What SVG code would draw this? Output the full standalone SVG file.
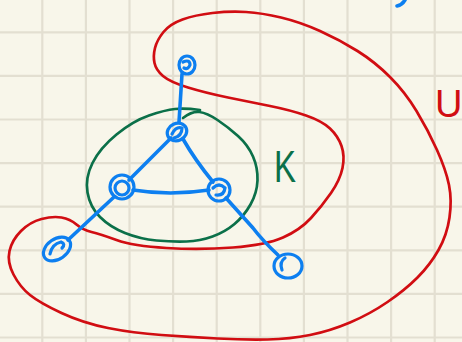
<svg xmlns="http://www.w3.org/2000/svg" width="462" height="342" viewBox="0 0 462 342">
<defs>
<style>
.grid line{stroke:#e3dfd1;stroke-width:2.2}
.red{fill:none;stroke:#d10d12;stroke-width:2.7;stroke-linecap:round;stroke-linejoin:round}
.green{fill:none;stroke:#0b7049;stroke-width:2.7;stroke-linecap:round;stroke-linejoin:round}
.edge{fill:none;stroke:#0d7ff0;stroke-width:3.6;stroke-linecap:round;stroke-linejoin:round}
.node *{fill:none;stroke:#0d7ff0;stroke-width:3.2;stroke-linecap:round}
.lbl{font-family:"Liberation Sans",Arial,sans-serif}
</style>
</defs>
<rect width="462" height="342" fill="#f8f6ea"/>
<g class="grid">
<line x1="42.3" y1="0" x2="42.3" y2="342"/>
<line x1="85.9" y1="0" x2="85.9" y2="342"/>
<line x1="129.5" y1="0" x2="129.5" y2="342"/>
<line x1="173.1" y1="0" x2="173.1" y2="342"/>
<line x1="216.7" y1="0" x2="216.7" y2="342"/>
<line x1="260.3" y1="0" x2="260.3" y2="342"/>
<line x1="303.9" y1="0" x2="303.9" y2="342"/>
<line x1="347.5" y1="0" x2="347.5" y2="342"/>
<line x1="391.1" y1="0" x2="391.1" y2="342"/>
<line x1="434.7" y1="0" x2="434.7" y2="342"/>
<line x1="0" y1="32.3" x2="462" y2="32.3"/>
<line x1="0" y1="75.9" x2="462" y2="75.9"/>
<line x1="0" y1="119.5" x2="462" y2="119.5"/>
<line x1="0" y1="163.1" x2="462" y2="163.1"/>
<line x1="0" y1="206.7" x2="462" y2="206.7"/>
<line x1="0" y1="250.3" x2="462" y2="250.3"/>
<line x1="0" y1="293.9" x2="462" y2="293.9"/>
<line x1="0" y1="337.5" x2="462" y2="337.5"/>
</g>
<g id="region-U">
<path class="red" d="M 91.5,232 Q 100,234 116.5,240 Q 133,246 166.5,248 Q 200,250 233,247.5 Q 266,245 283,237.5 Q 300,230 311,218 Q 322,206 331,193 Q 340,180 342.5,168 Q 345,156 341.5,146 Q 338,136 330,128.5 Q 322,121 306,115.5 Q 290,110 270,106 Q 250,102 228,97.5 Q 206,93 188,87.5 Q 170,82 163,76 Q 156,70 154.5,63 Q 153,56 155,48 Q 157,40 163.5,32 Q 170,24 182.5,19.5 Q 195,15 212.5,13 Q 230,11 246,12 Q 262,13 281,17.5 Q 300,22 320,31 Q 340,40 357.5,51 Q 375,62 390,77 Q 405,92 416.5,111 Q 428,130 437,150 Q 446,170 449,185 Q 452,200 449.5,217.5 Q 447,235 438.5,250 Q 430,265 417.5,277.5 Q 405,290 387.5,302 Q 370,314 350,322.5 Q 330,331 310,335 Q 290,339 267.5,339.5 Q 245,340 217.5,338.5 Q 190,337 161.5,335 Q 133,333 108,328 Q 83,323 61.5,313 Q 40,303 30,295 Q 20,287 13.5,274.5 Q 7,262 9.5,251 Q 12,240 21,231 Q 30,222 41.5,219 Q 53,216 61.5,217.5 Q 70,219 76.5,224.5 Q 83,230 91.5,232 Z"/>
<text class="lbl" x="435" y="117" font-size="38" fill="#d10d12">U</text>
</g>
<g id="region-K">
<path class="green" d="M 183,118 Q 192,111 199.5,112 Q 207,113 217.5,120 Q 228,127 238,136 Q 248,145 253,156.5 Q 258,168 257.5,180.5 Q 257,193 250.5,204.5 Q 244,216 234.5,224 Q 225,232 212.5,236.5 Q 200,241 186.5,241.5 Q 173,242 156.5,240.5 Q 140,239 125,233 Q 110,227 100,217 Q 90,207 87.5,192.5 Q 85,178 92.5,163 Q 100,148 116.5,134.5 Q 133,121 149,115.5 Q 165,110 175,109 Q 185,108 200,110"/>
<text class="lbl" x="274" y="182" font-size="44" fill="#0b7049" textLength="22" lengthAdjust="spacingAndGlyphs">K</text>
</g>
<g id="connectors">
<path class="edge" d="M 182,74 L 179,122"/>
<path class="edge" d="M 171,138 L 129,180"/>
<path class="edge" d="M 183,139 Q 195,160 213,182"/>
<path class="edge" d="M 133,190 Q 170,196 209,190"/>
<path class="edge" d="M 114,197 L 68,240"/>
<path class="edge" d="M 226,198 L 253,228 Q 262,240 278,255"/>
<path class="edge" d="M 405,0 Q 402,5 397,6"/>
</g>
<g id="n-top" class="node">
<ellipse cx="187" cy="65" rx="8" ry="9"/>
<path d="M 183,62 Q 190,59 190,65 Q 188,70 184,68"/>
</g>
<g id="n-center" class="node">
<ellipse cx="177" cy="132" rx="10" ry="8.5" transform="rotate(-25 177 132)"/>
<path d="M 172,134 Q 176,126 182,128 Q 182,136 174,138"/>
</g>
<g id="n-left" class="node">
<circle cx="122" cy="187" r="12"/>
<circle cx="122" cy="188" r="7"/>
</g>
<g id="n-right" class="node">
<circle cx="219" cy="190" r="11"/>
<path d="M 213,188 Q 219,182 225,188 Q 224,196 216,195"/>
</g>
<g id="n-bottom-left" class="node">
<ellipse cx="57" cy="249" rx="15" ry="10" transform="rotate(-35 57 249)"/>
<path d="M 50,254 Q 52,244 61,242 Q 66,244 62,248"/>
</g>
<g id="n-bottom-right" class="node">
<ellipse cx="288" cy="266" rx="14" ry="12"/>
<path d="M 282,270 Q 279,262 285,258"/>
</g>
</svg>
